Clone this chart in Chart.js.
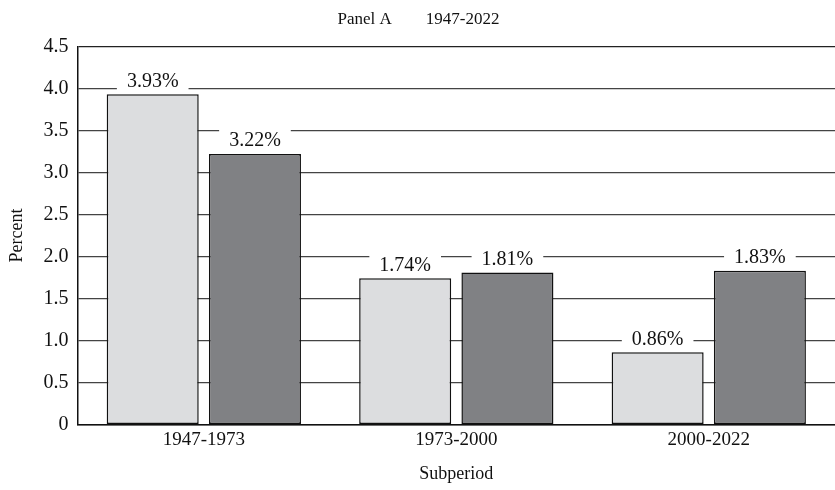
<!DOCTYPE html>
<html>
<head>
<meta charset="utf-8">
<script src="https://cdn.jsdelivr.net/npm/chart.js@4/dist/chart.umd.min.js"></script>
<style>
  html, body { margin: 0; padding: 0; background: #fff; }
  #wrap { width: 835px; height: 490px; }
</style>
</head>
<body>
<div id="wrap"><canvas id="growthChart"></canvas></div>
<script>
const periods = ['1947-1973', '1973-2000', '2000-2022'];
const seriesLight = [3.93, 1.74, 0.86];
const seriesDark = [3.22, 1.81, 1.83];
const yTicks = [0, 0.5, 1.0, 1.5, 2.0, 2.5, 3.0, 3.5, 4.0, 4.5];

const FONT = "'Liberation Serif', 'DejaVu Serif', serif";

// labels above bars, on a white box that hides the grid lines
const barLabels = {
    id: 'barLabels',
    afterDatasetsDraw(chart) {
        const ctx = chart.ctx;
        ctx.save();
        ctx.font = `20px ${FONT}`;
        ctx.textAlign = 'center';
        ctx.textBaseline = 'bottom';
        chart.data.datasets.forEach((ds, i) => {
            const meta = chart.getDatasetMeta(i);
            meta.data.forEach((bar, j) => {
                const txt = ds.data[j].toFixed(2) + '%';
                const w = ctx.measureText(txt).width;
                ctx.fillStyle = '#fff';
                ctx.fillRect(bar.x - w / 2 - 10, bar.y - 28, w + 20, 25);
                ctx.fillStyle = '#111';
                ctx.fillText(txt, bar.x, bar.y - 3);
            });
        });
        ctx.restore();
    }
};

new Chart(document.getElementById('growthChart'), {
    type: 'bar',
    data: {
        labels: periods,
        datasets: [
            { data: seriesLight, backgroundColor: '#dcdddf', borderColor: '#111', borderWidth: 1.5, borderSkipped: false },
            { data: seriesDark, backgroundColor: '#808184', borderColor: '#111', borderWidth: 1.5, borderSkipped: false }
        ]
    },
    options: {
        responsive: true,
        maintainAspectRatio: false,
        animation: false,
        devicePixelRatio: 1,
        datasets: { bar: { barPercentage: 0.9, categoryPercentage: 0.81 } },
        layout: { padding: { top: 3, right: 0, left: 2, bottom: 1 } },
        plugins: {
            legend: { display: false },
            tooltip: { enabled: false },
            title: {
                display: true,
                text: 'Panel A\u2003\u20031947-2022',
                color: '#111',
                font: { family: FONT, size: 17, weight: 'normal' },
                padding: { top: 6, bottom: 17 }
            }
        },
        scales: {
            x: {
                grid: { display: false, drawTicks: false },
                border: { display: true, color: '#111', width: 1.5 },
                ticks: { color: '#111', font: { family: FONT, size: 19 }, padding: 4 },
                title: { display: true, text: 'Subperiod', color: '#111', font: { family: FONT, size: 18 }, padding: { top: 8 } }
            },
            y: {
                min: 0,
                max: 4.5,
                afterBuildTicks: axis => { axis.ticks = yTicks.map(v => ({ value: v })); },
                grid: { color: ctx => ctx.tick && ctx.tick.value === 4.5 ? '#222' : '#444', lineWidth: 1.2, drawTicks: false },
                border: { display: true, color: '#111', width: 1.5 },
                ticks: {
                    color: '#111',
                    font: { family: FONT, size: 20 },
                    padding: 9,
                    callback: v => v === 0 ? '0' : Number(v).toFixed(1)
                },
                title: { display: true, text: 'Percent', color: '#111', font: { family: FONT, size: 18 }, padding: { bottom: 7 } }
            }
        }
    },
    plugins: [barLabels]
});
</script>
</body>
</html>
